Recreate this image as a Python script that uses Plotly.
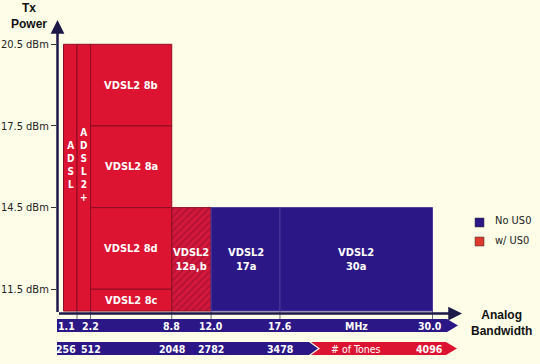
import plotly.graph_objects as go

# ---------------- data ----------------
profile_names = ["ADSL", "ADSL2+", "VDSL2 8b", "VDSL2 8a", "VDSL2 8d",
                 "VDSL2 8c", "VDSL2 12a,b", "VDSL2 17a", "VDSL2 30a"]
profile_text = ["A<br>D<br>S<br>L", "A<br>D<br>S<br>L<br>2<br>+", "VDSL2 8b",
                "VDSL2 8a", "VDSL2 8d", "VDSL2 8c", "VDSL2<br>12a,b",
                "VDSL2<br>17a", "VDSL2<br>30a"]
FLOOR = 10.7  # bottom of the power axis (dBm)
band_start_mhz = [0.0, 1.1, 2.2, 2.2, 2.2, 2.2, 8.8, 12.0, 17.6]
band_end_mhz = [1.1, 2.2, 8.8, 8.8, 8.8, 8.8, 12.0, 17.6, 30.0]
power_low_dbm = [FLOOR, FLOOR, 17.5, 14.5, 11.5, FLOOR, FLOOR, FLOOR, FLOOR]
power_high_dbm = [20.5, 20.5, 20.5, 17.5, 14.5, 11.5, 14.5, 14.5, 14.5]
profile_group = ["red", "red", "red", "red", "red", "red", "hatch", "navy", "navy"]

mhz_ticks = [1.1, 2.2, 8.8, 12.0, 17.6, 30.0]
mhz_labels = ["1.1", "2.2", "8.8", "12.0", "17.6", "30.0"]
tone_labels = ["256", "512", "2048", "2782", "3478", "4096"]
power_ticks = [11.5, 14.5, 17.5, 20.5]
power_labels = ["11.5 dBm", "14.5 dBm", "17.5 dBm", "20.5 dBm"]
legend_names = ["No US0", "w/ US0"]

# ---------------- styling ----------------
W, H = 540, 364
ML = 57
BG = "#FEFEE8"
RED = "#DC1431"
RED_LINE = "#8E0C24"
NAVY = "#2B1785"
NAVY_LINE = "#4A3A9C"
AXIS = "#1C1848"
FONT = "DejaVu Sans Condensed, Liberation Sans, Arial, sans-serif"
FONT_W = "Liberation Sans, Arial, sans-serif"

# scale: pixel of 0 MHz, px per MHz; pixel of 20.5 dBm, px per dB
X0_PX, X_SCALE = 63.5, 12.3
Y_REF_PX, Y_SCALE = 44.3, 27.22
x_range = [(ML - X0_PX) / X_SCALE, (W - X0_PX) / X_SCALE]
y_range = [20.5 - (H - Y_REF_PX) / Y_SCALE, 20.5 + Y_REF_PX / Y_SCALE]


def pxx(p):  # pixel x -> paper
    return (p - ML) / (W - ML)


def pxy(p):  # pixel y -> paper
    return 1 - p / H


fig = go.Figure()

group_style = {
    "red": dict(color=RED, line=dict(color=RED_LINE, width=1)),
    "hatch": dict(color=RED, line=dict(color=RED_LINE, width=1),
                  pattern=dict(shape="/", fgcolor="#8A1030", bgcolor="#D4173A",
                               size=5, solidity=0.35)),
    "navy": dict(color=NAVY, line=dict(color=NAVY_LINE, width=1)),
}
for g in ["red", "hatch", "navy"]:
    idx = [i for i, gg in enumerate(profile_group) if gg == g]
    fig.add_trace(go.Bar(
        x=[(band_start_mhz[i] + band_end_mhz[i]) / 2 for i in idx],
        width=[band_end_mhz[i] - band_start_mhz[i] for i in idx],
        base=[power_low_dbm[i] for i in idx],
        y=[power_high_dbm[i] - power_low_dbm[i] for i in idx],
        marker=group_style[g], name=g, showlegend=False,
        hovertext=[profile_names[i] for i in idx], hoverinfo="text",
    ))

annotations = []
shapes = []


def label(x, y, text, font, xref="paper", yref="paper", xanchor="center", **kw):
    annotations.append(dict(x=x, y=y, xref=xref, yref=yref, text=text, showarrow=False,
                            xanchor=xanchor, yanchor="middle", font=font, **kw))


# bar labels
for i, t in enumerate(profile_text):
    xc = (band_start_mhz[i] + band_end_mhz[i]) / 2
    yc = (power_low_dbm[i] + power_high_dbm[i]) / 2
    vertical = i < 2
    label(xc, yc, f"<b>{t}</b>",
          dict(family=FONT, size=10 if vertical else 11, color="white"),
          xref="x", yref="y", yshift=13 if vertical else 0)

# axes arrows
x_tip = (462 - X0_PX) / X_SCALE
x_tail = (57.5 - X0_PX) / X_SCALE
y_axis_val = 20.5 - (313.5 - Y_REF_PX) / Y_SCALE
y_tip = 20.5 + (Y_REF_PX - 20) / Y_SCALE
annotations.append(dict(x=x_tail, y=y_tip, ax=x_tail, ay=y_axis_val, xref="x", yref="y",
                        axref="x", ayref="y", text="", showarrow=True, arrowhead=2,
                        arrowsize=1.1, arrowwidth=2.5, arrowcolor=AXIS, standoff=0))
annotations.append(dict(x=x_tip, y=y_axis_val, ax=x_tail, ay=y_axis_val, xref="x", yref="y",
                        axref="x", ayref="y", text="", showarrow=True, arrowhead=2,
                        arrowsize=1.1, arrowwidth=2.5, arrowcolor=AXIS, standoff=0))


# bottom bands (decorative arrows)
def poly(pts):
    return "M " + " L ".join(f"{pxx(a):.5f},{pxy(b):.5f}" for a, b in pts) + " Z"


shapes.append(dict(type="path", xref="paper", yref="paper", line=dict(width=0),
                   fillcolor=NAVY,
                   path=poly([(57, 319), (447, 319), (458, 325.5), (447, 332), (57, 332)])))
shapes.append(dict(type="path", xref="paper", yref="paper", line=dict(width=0),
                   fillcolor=NAVY,
                   path=poly([(57, 342), (309, 342), (318, 348.5), (309, 355), (57, 355)])))
shapes.append(dict(type="path", xref="paper", yref="paper", line=dict(width=0),
                   fillcolor=RED,
                   path=poly([(311, 342), (446, 342), (457, 348.5), (446, 355), (311, 355),
                              (320, 348.5)])))

# tick marks from the plot down to band
for v in mhz_ticks:
    shapes.append(dict(type="line", xref="x", yref="paper", x0=v, x1=v,
                       y0=pxy(311), y1=pxy(319), line=dict(color="#6A6A7A", width=1)))

# band labels
band_font = dict(family=FONT, size=10.5, color="white")
label_shift = [-11, 0, 0, 0, 0, -3]
for k, v in enumerate(mhz_ticks):
    label(v, pxy(325.5), f"<b>{mhz_labels[k]}</b>", band_font, xref="x", xshift=label_shift[k])
    label(v, pxy(348.5), f"<b>{tone_labels[k]}</b>", band_font, xref="x", xshift=label_shift[k])
mid = (mhz_ticks[4] + mhz_ticks[5]) / 2
label(mid, pxy(325.5), "<b>MHz</b>", band_font, xref="x")
label(mid, pxy(348.5), "# of Tones", band_font, xref="x")

# axis titles
title_font = dict(family=FONT_W, size=12, color="#111111")
label(pxx(29), pxy(16), "<b>Tx<br>Power</b>", title_font)
label(pxx(501), pxy(322.5), "<b>Analog<br>Bandwidth</b>", title_font)

# legend
legend_colors = [NAVY, "#DC3A2E"]
for k, (nm, col) in enumerate(zip(legend_names, legend_colors)):
    yc = 222.5 + 19 * k
    shapes.append(dict(type="rect", xref="paper", yref="paper", x0=pxx(475), x1=pxx(484),
                       y0=pxy(yc - 4.5), y1=pxy(yc + 4.5), fillcolor=col,
                       line=dict(color="#333333", width=0.5)))
    label(pxx(493), pxy(yc - 1.5), nm, dict(family=FONT, size=11, color="#222222"),
          xanchor="left")

fig.update_layout(
    width=W, height=H, margin=dict(l=ML, r=0, t=0, b=0),
    paper_bgcolor=BG, plot_bgcolor=BG, barmode="overlay",
    xaxis=dict(range=x_range, visible=False, fixedrange=True),
    yaxis=dict(range=y_range, tickvals=power_ticks, ticktext=power_labels,
               ticks="outside", ticklen=5, tickwidth=1, tickcolor="#333333",
               showgrid=False, zeroline=False, showline=False, fixedrange=True,
               tickfont=dict(family=FONT, size=11, color="#222222")),
    annotations=annotations, shapes=shapes, showlegend=False,
)

fig.write_html("out.html", config={"displayModeBar": False},
               post_script="document.body.style.margin='0px';")
